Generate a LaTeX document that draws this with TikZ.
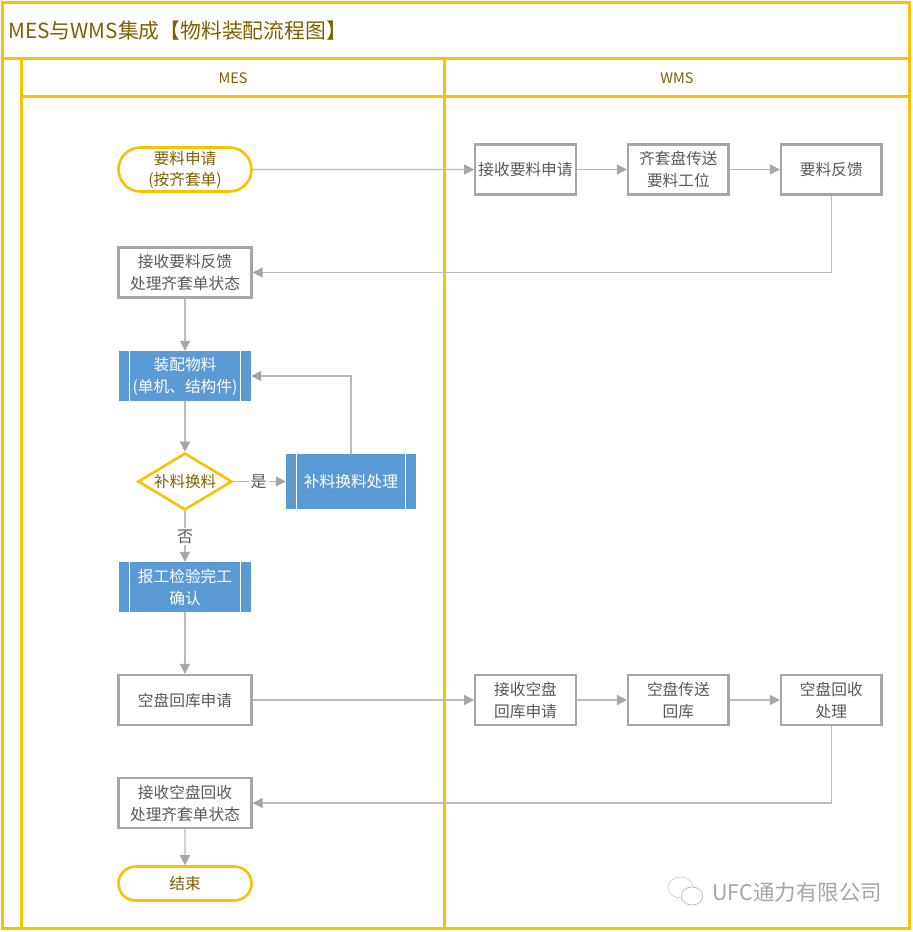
\documentclass[tikz,border=0pt]{standalone}
\usepackage{fontspec}
\setmainfont{Noto Sans CJK SC}
\usetikzlibrary{positioning}
\usetikzlibrary{arrows.meta}
\usetikzlibrary{shapes.geometric,shapes.misc}
\definecolor{lanegold}{HTML}{FFC000}
\definecolor{textgold}{HTML}{7F6000}
\definecolor{linegray}{HTML}{BBBBBB}
\definecolor{boxgray}{HTML}{A6A6A6}
\definecolor{textgray}{HTML}{595959}
\definecolor{procblue}{HTML}{5B9BD5}
\tikzset{
	>={Triangle[length=10pt,width=10pt]},
	lane/.style={draw=lanegold, line width=2.6pt},
	terminal/.style={
		rounded rectangle,
		draw=lanegold, line width=2.6pt,
		text=textgold,
		font=\fontsize{15.7}{21}\selectfont,
		align=center,
		minimum width=133pt,
		inner sep=0pt},
	boxstep/.style={
		rectangle,
		draw=boxgray, line width=2.4pt,
		text=textgray,
		font=\fontsize{15.7}{22}\selectfont,
		align=center,
		minimum height=50pt,
		inner sep=0pt},
	wmsbox/.style={boxstep, minimum width=100.5pt},
	mesbox/.style={boxstep, minimum width=133pt},
	subproc/.style={
		rectangle,
		fill=procblue,
		text=white,
		font=\fontsize{15.7}{22}\selectfont,
		align=center,
		inner sep=0pt,
		path picture={
			\draw[white, line width=1pt]
				([xshift=10.5pt]path picture bounding box.north west) -- ([xshift=10.5pt]path picture bounding box.south west)
				([xshift=-10.5pt]path picture bounding box.north east) -- ([xshift=-10.5pt]path picture bounding box.south east);
		}},
	decide/.style={
		diamond,
		draw=lanegold, line width=2.6pt,
		text=textgold,
		font=\fontsize{15.5}{20}\selectfont,
		aspect=1.65,
		minimum width=94pt, minimum height=57pt,
		inner sep=0pt},
	line/.style={draw=linegray, line width=1.4pt, arrows={->[fill=boxgray,color=boxgray]}},
	answer/.style={fill=white, text=textgray, font=\fontsize{16}{20}\selectfont, inner sep=2pt},
}
\begin{document}
\begin{tikzpicture}[x=1pt,y=-1pt,node distance=50pt]
	\useasboundingbox (0,0) rectangle (913,932);
	\fill[white] (0,0) rectangle (913,932);
	% lanes
	\draw[lane] (2.5,2.5) rectangle (909.5,928.5);
	\draw[lane] (2.5,58.5) -- (909.5,58.5);
	\draw[lane] (21.5,58.5) -- (21.5,928.5);
	\draw[lane] (444.5,58.5) -- (444.5,928.5);
	\draw[lane] (21.5,96.5) -- (909.5,96.5);
	\node[text=textgold, font=\fontsize{20.8}{24}\selectfont, anchor=west, inner sep=0pt] (title) at (8,31) {MES与WMS集成【物料装配流程图】};
	\node[text=textgold, font=\fontsize{14.5}{16}\selectfont] (lanemes) at (233,78) {MES};
	\node[text=textgold, font=\fontsize{14.5}{16}\selectfont] (lanewms) at (677,78) {WMS};

	% MES side
	\node[terminal, minimum height=44pt] (start) at (185,169.5) {要料申请\\(按齐套单)};
	\node[mesbox] (recvfeed) at (185,272.5) {接收要料反馈\\处理齐套单状态};
	\node[subproc, minimum width=132pt, minimum height=50pt] (assemble) at (185,376) {装配物料\\(单机、结构件)};
	\node[decide] (swap) at (185,481.5) {补料换料};
	\node[subproc, minimum width=130pt, minimum height=55pt] (swapproc) at (351,481.5) {补料换料处理};
	\node[subproc, minimum width=132pt, minimum height=50pt] (report) at (185,587) {报工检验完工\\确认};
	\node[mesbox] (emptyreq) at (185,700) {空盘回库申请};
	\node[mesbox] (recvempty) at (185,803) {接收空盘回收\\处理齐套单状态};
	\node[terminal, minimum height=34pt] (finish) at (185,883.5) {结束};

	% WMS side
	\node[wmsbox] (recvreq) at (525.5,169.5) {接收要料申请};
	\node[wmsbox, right=of recvreq] (convey) {齐套盘传送\\要料工位};
	\node[wmsbox, right=of convey] (feedback) {要料反馈};
	\node[wmsbox] (recvback) at (525.5,700) {接收空盘\\回库申请};
	\node[wmsbox, right=of recvback] (conveyback) {空盘传送\\回库};
	\node[wmsbox, right=of conveyback] (recycle) {空盘回收\\处理};

	% connectors
	\path[line] (start) -- (recvreq);
	\path[line] (recvreq) -- (convey);
	\path[line] (convey) -- (feedback);
	\path[line] (feedback.south) |- (recvfeed.east);
	\path[line] (recvfeed) -- (assemble);
	\path[line] (assemble) -- (swap);
	\path[line] (swap) -- node[answer, pos=.48] (yes) {是} (swapproc);
	\path[line] (swapproc.north) |- (assemble.east);
	\path[line] (swap) -- node[answer, pos=.5] (no) {否} (report);
	\path[line] (report) -- (emptyreq);
	\path[line] (emptyreq) -- (recvback);
	\path[line] (recvback) -- (conveyback);
	\path[line] (conveyback) -- (recycle);
	\path[line] (recycle.south) |- (recvempty.east);
	\path[line] (recvempty) -- (finish);

	% mark
	\draw[linegray!70, line width=.7pt, fill=white] (680.5,887.5) ellipse (12.5pt and 10.5pt);
	\draw[linegray, line width=.7pt, fill=white] (692,896) ellipse (11pt and 9pt);
	\node[text=boxgray, font=\fontsize{21.5}{24}\selectfont, anchor=west, inner sep=0pt] (mark) at (712,892) {UFC通力有限公司};
\end{tikzpicture}
\end{document}
